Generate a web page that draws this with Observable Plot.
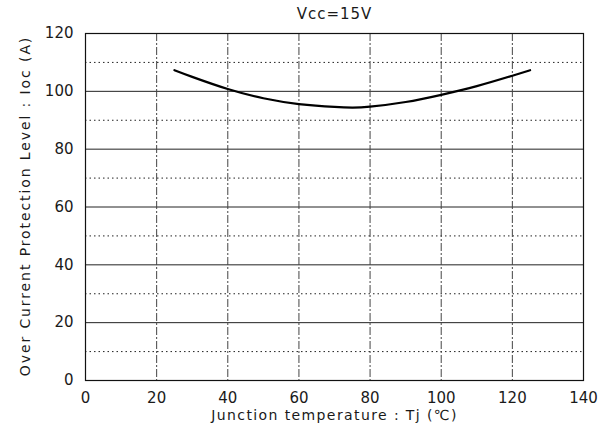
<!DOCTYPE html>
<html><head><meta charset="utf-8">
<script src="https://cdn.jsdelivr.net/npm/d3@7"></script>
<script src="https://cdn.jsdelivr.net/npm/@observablehq/plot@0.6"></script>
<style>
body{margin:0;background:#fff}
.xlab text{letter-spacing:1.4px}
.ylab text{letter-spacing:1.9px}
.ttl text{letter-spacing:1px}
</style>
</head><body><div id="chart"></div>
<script>
const title = "Vcc=15V";
const xLabel = "Junction temperature : Tj (℃)";
const yLabel = "Over Current Protection Level : Ioc (A)";
const xTicks = [0, 20, 40, 60, 80, 100, 120, 140];
const yMajor = [0, 20, 40, 60, 80, 100, 120];
const yMinor = [10, 30, 50, 70, 90, 110];
const tj = [25, 30, 40, 50, 60, 70, 75, 80, 90, 100, 110, 120, 125];
const ioc = [107.3, 105, 100.8, 97.6, 95.6, 94.6, 94.4, 94.7, 96.3, 98.8, 101.8, 105.4, 107.3];
const data = tj.map((t, i) => ({tj: t, ioc: ioc[i]}));

const chart = Plot.plot({
  width: 608, height: 436,
  marginLeft: 85, marginRight: 25, marginTop: 33, marginBottom: 56,
  style: {fontFamily: "'DejaVu Sans', sans-serif", fontSize: "15px", color: "#1a1a1a", background: "#fff"},
  x: {domain: [0, 140], ticks: xTicks, tickSize: 0, label: null},
  y: {domain: [0, 120], ticks: yMajor, tickSize: 0, label: null},
  marks: [
    Plot.ruleY(yMinor, {stroke: "#222", strokeWidth: 1, strokeDasharray: "1.5,3"}),
    Plot.ruleY(yMajor, {stroke: "#222", strokeWidth: 1}),
    Plot.ruleX(xTicks, {stroke: "#444", strokeWidth: 1, strokeDasharray: "8,2,2,2"}),
    Plot.frame({stroke: "#111", strokeWidth: 1.2}),
    Plot.line(data, {x: "tj", y: "ioc", curve: "natural", stroke: "#000", strokeWidth: 2.2}),
    Plot.axisX({ticks: xTicks, tickSize: 0, tickPadding: 12, label: null, fontSize: 15}),
    Plot.axisY({ticks: yMajor, tickSize: 0, tickPadding: 12, label: null, fontSize: 15}),
    Plot.text([title], {frameAnchor: "top", dy: -19, lineAnchor: "middle", fontSize: 15, className: "ttl"}),
    Plot.text([xLabel], {frameAnchor: "bottom", dy: 35, lineAnchor: "middle", fontSize: 14, className: "xlab"}),
    Plot.text([yLabel], {frameAnchor: "left", dx: -60, dy: -1, rotate: -90, textAnchor: "middle", lineAnchor: "middle", fontSize: 14, className: "ylab"})
  ]
});
document.getElementById("chart").append(chart);
</script>
</body></html>
